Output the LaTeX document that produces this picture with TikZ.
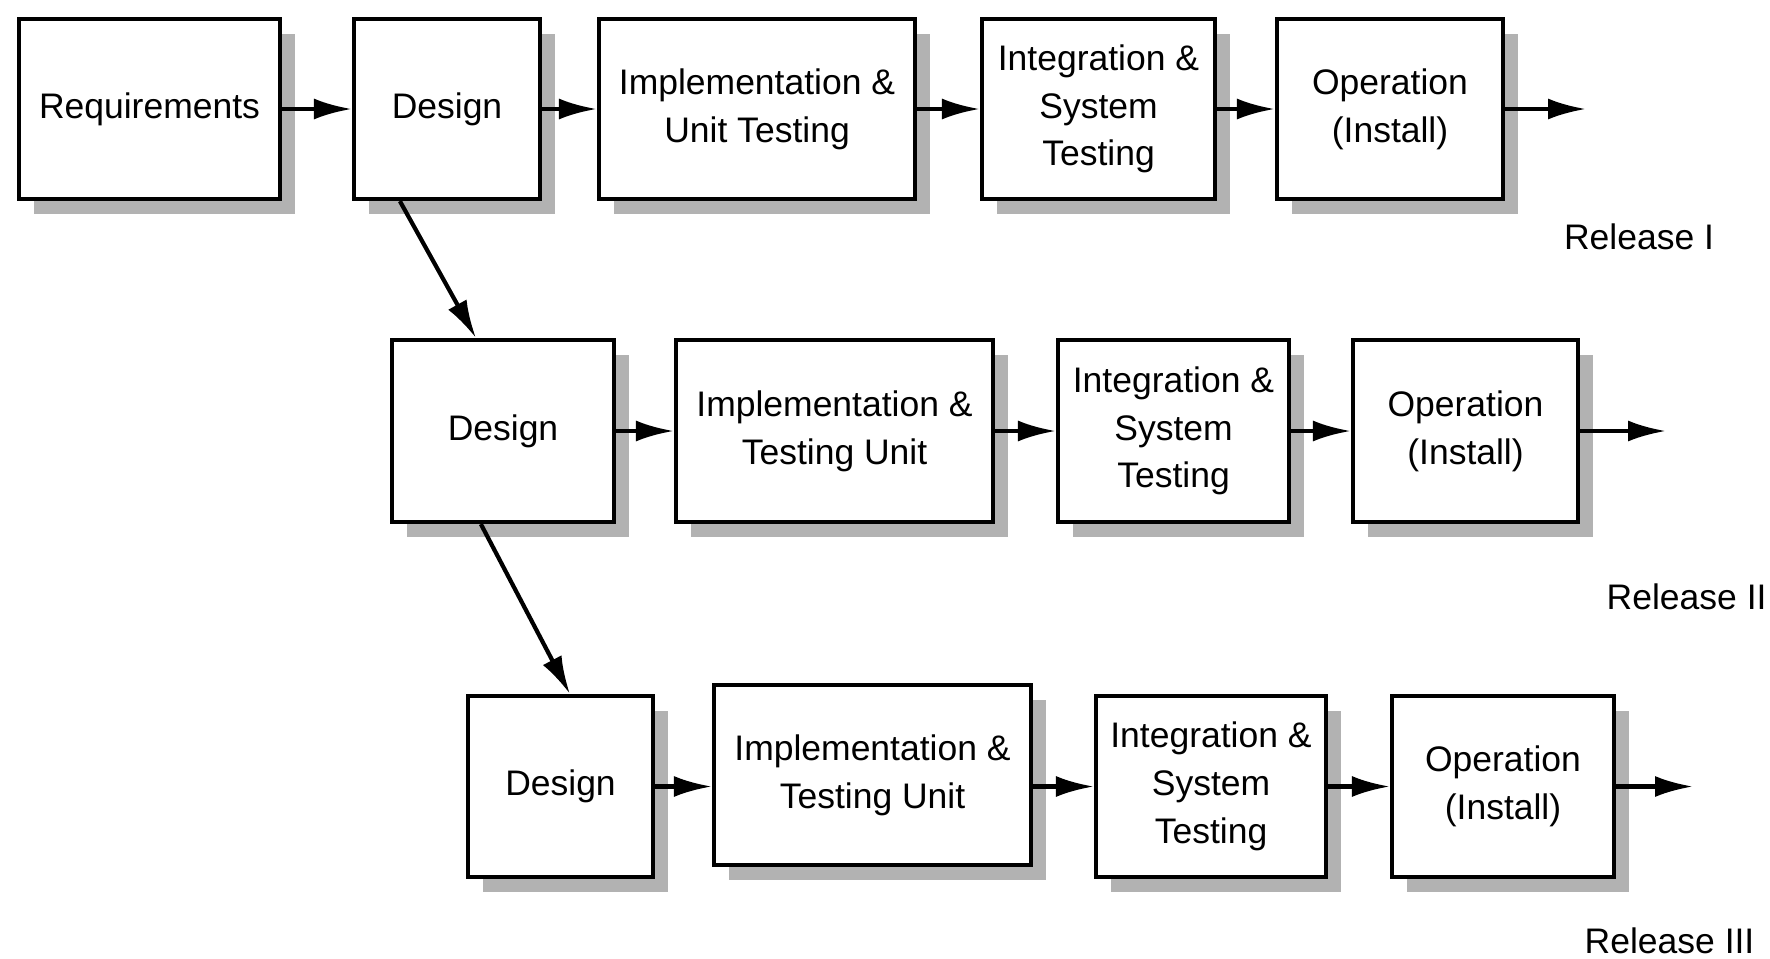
\documentclass[tikz,border=0pt]{standalone}
\usepackage{fontspec}
\setmainfont{Liberation Sans}
\usetikzlibrary{arrows.meta,shadows}

\begin{document}
\begin{tikzpicture}[x=1mm,y=-1mm,
  box/.style={draw, line width=1.2pt, fill=white, align=center, inner sep=1pt,
    drop shadow={shadow xshift=1.5mm, shadow yshift=-1.5mm, fill=black!30, opacity=1}},
  pfeil/.style={line width=1.2pt, -{Latex[length=3.8mm,width=2.1mm]}},
  release/.style={anchor=west, inner sep=0pt}]
\fontsize{10.1}{13.6}\selectfont
\useasboundingbox (0,0) rectangle (177,95.8);
% Release I
\node[box, minimum width=26.1mm, minimum height=18mm] (req) at (14.95,10.9) {Requirements};
\node[box, minimum width=18.6mm, minimum height=18mm] (des1) at (44.7,10.9) {Design};
\node[box, minimum width=31.6mm, minimum height=18mm] (imp1) at (75.7,10.9) {Implementation \&\\Unit Testing};
\node[box, minimum width=23.3mm, minimum height=18mm] (int1) at (109.85,10.9) {Integration \&\\System\\Testing};
\node[box, minimum width=22.6mm, minimum height=18mm] (op1) at (139.0,10.9) {Operation\\(Install)};
\coordinate (end1) at (158.6,10.9);
\node[anchor=center] (rel1) at (163.9,23.7) {Release I};
\path[draw,pfeil] (req) -- (des1);
\path[draw,pfeil] (des1) -- (imp1);
\path[draw,pfeil] (imp1) -- (int1);
\path[draw,pfeil] (int1) -- (op1);
\path[draw,pfeil] (op1) -- (end1);
% Release II
\node[box, minimum width=22.2mm, minimum height=18.2mm] (des2) at (50.3,43.1) {Design};
\node[box, minimum width=31.7mm, minimum height=18.2mm] (imp2) at (83.45,43.1) {Implementation \&\\Testing Unit};
\node[box, minimum width=23.1mm, minimum height=18.2mm] (int2) at (117.35,43.1) {Integration \&\\System\\Testing};
\node[box, minimum width=22.5mm, minimum height=18.2mm] (op2) at (146.55,43.1) {Operation\\(Install)};
\coordinate (end2) at (166.6,43.1);
\node[release] (rel2) at (160.6,59.7) {Release II};
\path[draw,pfeil] (des2) -- (imp2);
\path[draw,pfeil] (imp2) -- (int2);
\path[draw,pfeil] (int2) -- (op2);
\path[draw,pfeil] (op2) -- (end2);
% Release III
\node[box, minimum width=18.5mm, minimum height=18.1mm] (des3) at (56.05,78.65) {Design};
\node[box, minimum width=31.7mm, minimum height=18mm] (imp3) at (87.25,77.5) {Implementation \&\\Testing Unit};
\node[box, minimum width=23mm, minimum height=18.1mm] (int3) at (121.1,78.65) {Integration \&\\System\\Testing};
\node[box, minimum width=22.2mm, minimum height=18.1mm] (op3) at (150.3,78.65) {Operation\\(Install)};
\coordinate (end3) at (169.3,78.65);
\node[release] (rel3) at (158.4,94.1) {Release III};
\path[draw,pfeil] (des3.east) -- (des3.east -| imp3.west);
\path[draw,pfeil] (des3.east -| imp3.east) -- (int3);
\path[draw,pfeil] (int3) -- (op3);
\path[draw,pfeil] (op3) -- (end3);
% Design to next release
\path[draw,pfeil] ([xshift=4.8mm]des1.south west) -- ([xshift=8.6mm]des2.north west);
\path[draw,pfeil] ([xshift=9.1mm]des2.south west) -- ([xshift=10.4mm]des3.north west);
\end{tikzpicture}
\end{document}
